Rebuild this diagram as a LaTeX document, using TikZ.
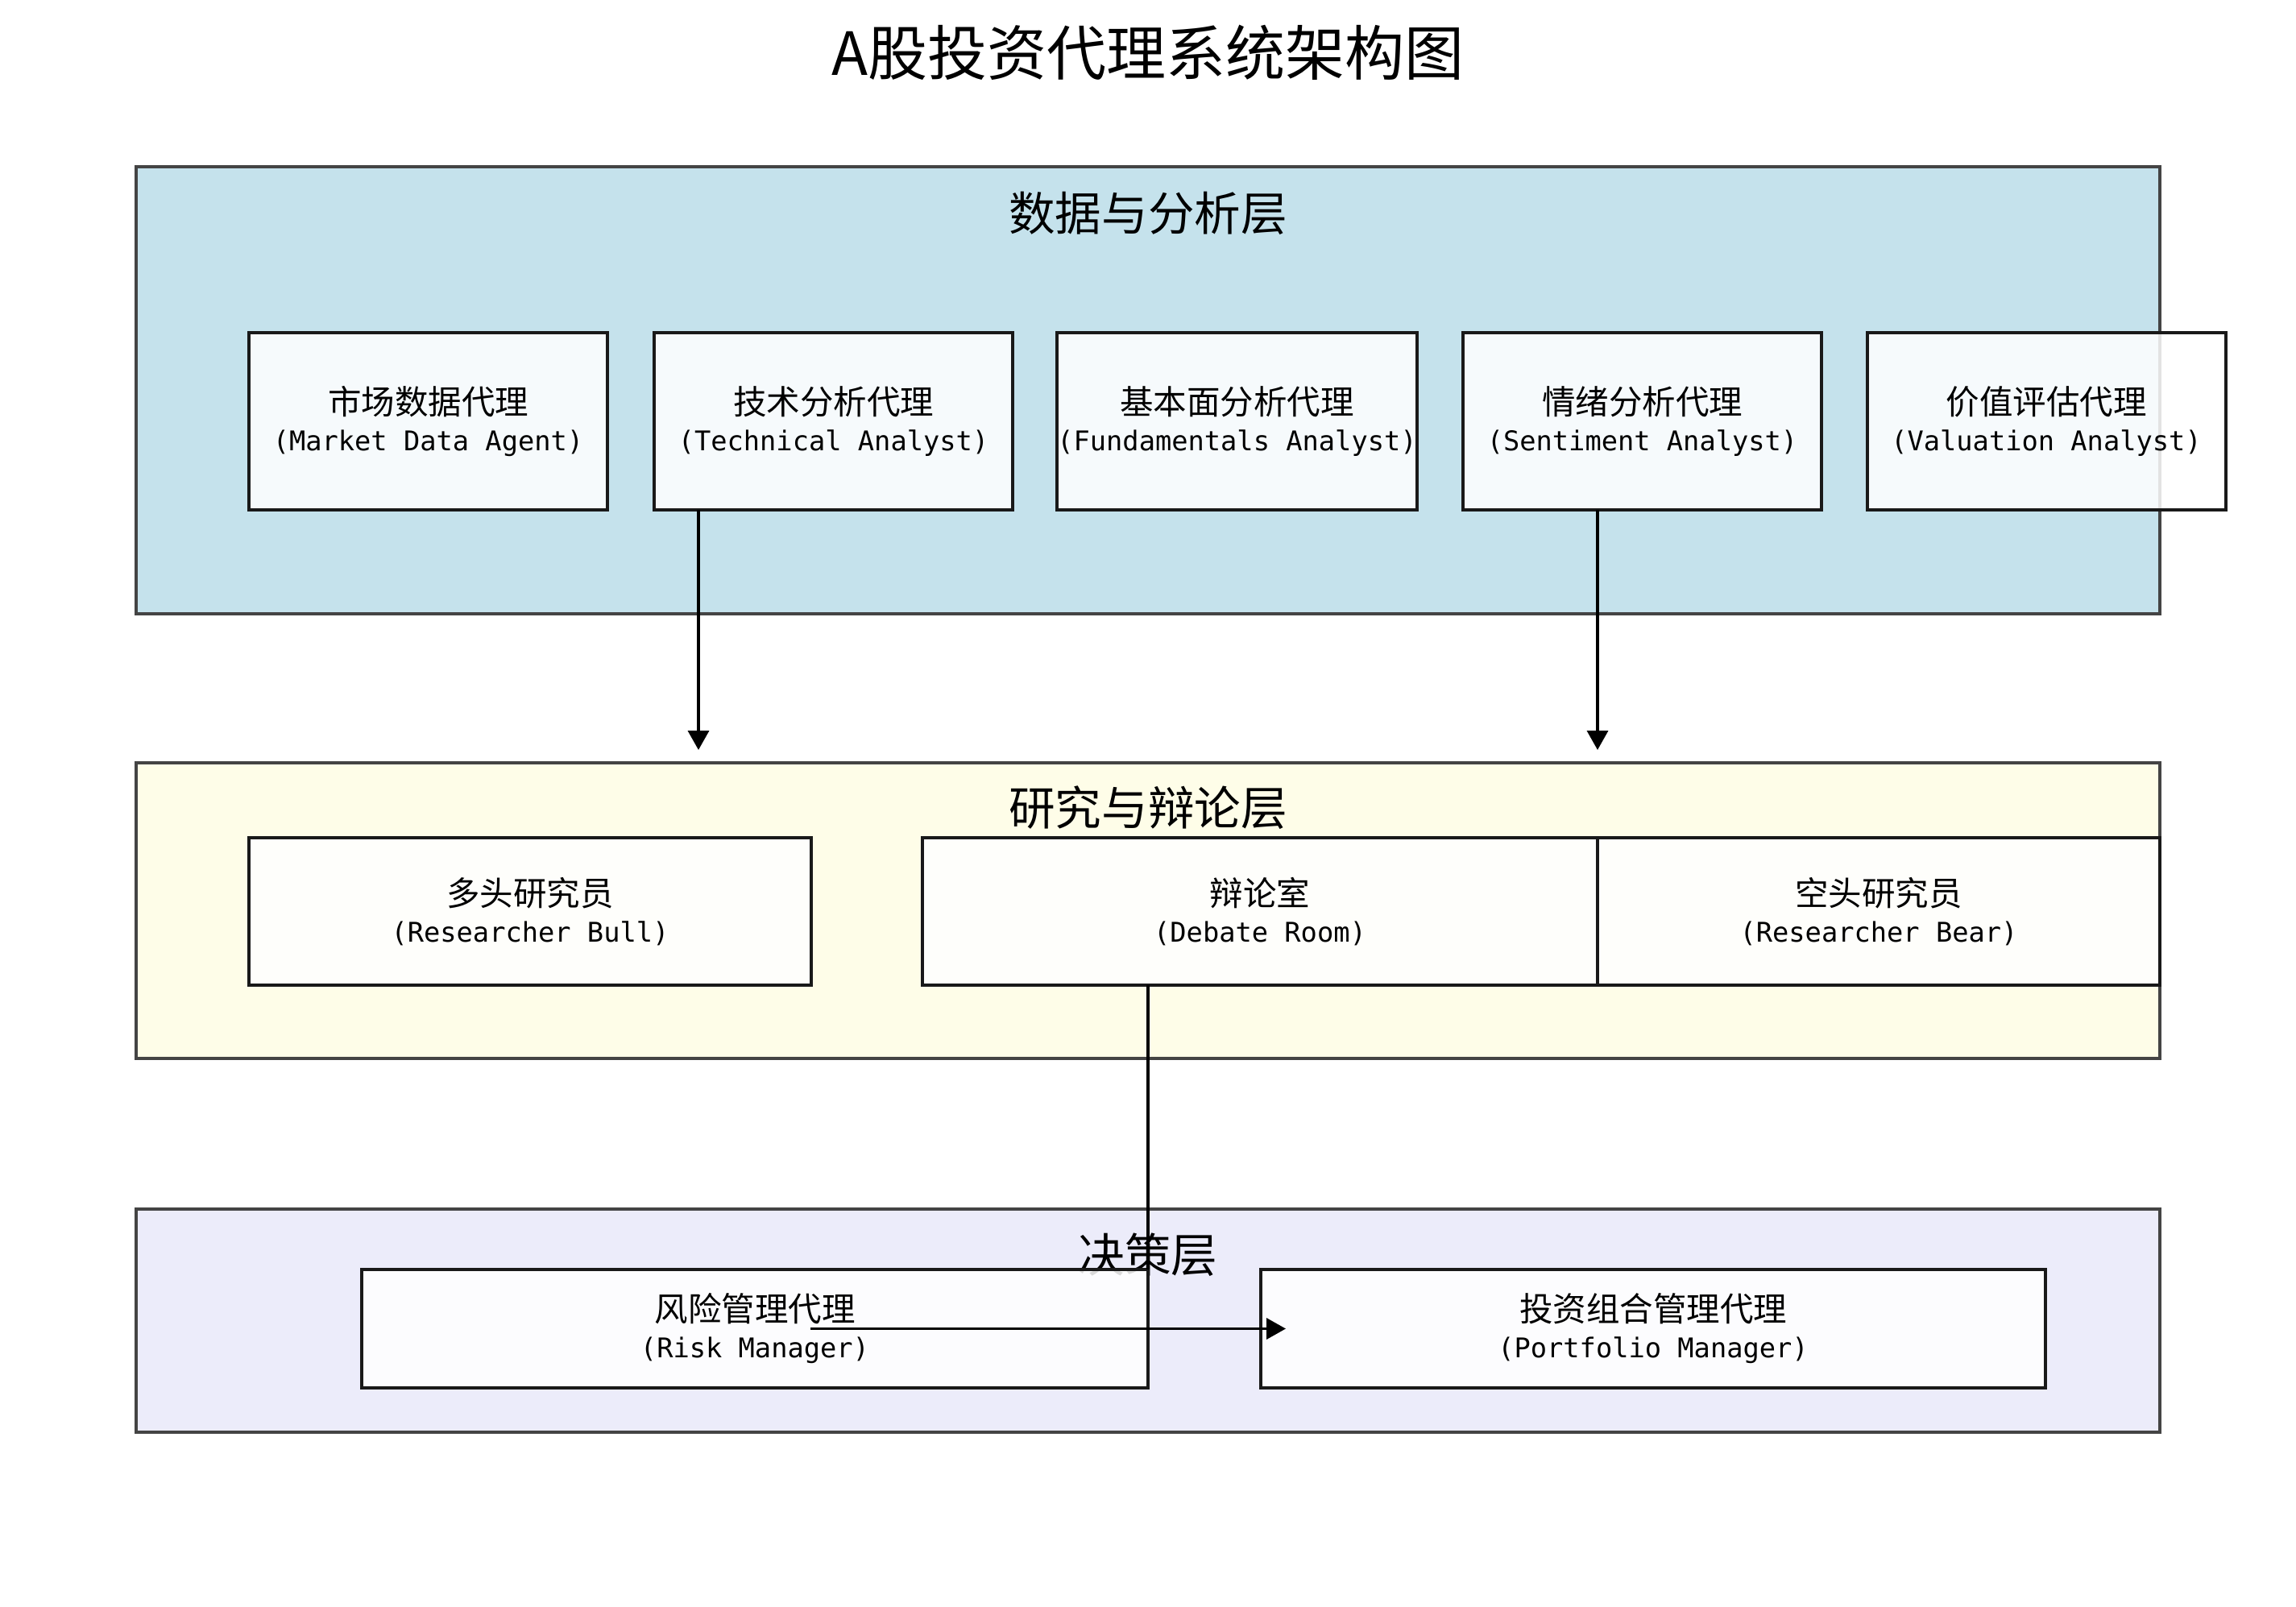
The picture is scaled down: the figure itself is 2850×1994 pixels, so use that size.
\documentclass[tikz,border=0pt]{standalone}
\usepackage{fontspec}
\setmainfont{Noto Sans CJK SC}
\newfontfamily\monofont{DejaVu Sans Mono}
\usetikzlibrary{arrows.meta}

\definecolor{layerblue}{RGB}{197,226,236}
\definecolor{layeryellow}{RGB}{254,253,232}
\definecolor{layerviolet}{RGB}{236,236,250}
\definecolor{layeredge}{RGB}{68,68,68}

\newcommand\agentlabel[2]{#1\\{\monofont\fontsize{33.7}{45}\selectfont #2}}

\tikzset{
  layerbox/.style={draw=layeredge, line width=4.5pt},
  layertitle/.style={font=\fontsize{57.6}{62}\selectfont},
  agentbox/.style={draw=black!90, line width=4pt, fill=white, fill opacity=0.85,
    text opacity=1, inner sep=0pt, outer sep=0pt, align=center,
    font=\fontsize{41.5}{45}\selectfont},
  flow/.style={line width=3.5pt, draw=black},
  flowtip/.style={flow, -{Triangle[length=24pt,width=26pt]}},
}

\begin{document}
\begin{tikzpicture}[x=1pt,y=-1pt]
\useasboundingbox (0,0) rectangle (2850,1994);
\fill[white] (0,0) rectangle (2850,1994);

% title
\node[font=\fontsize{74}{80}\selectfont] (title) at (1425,65) {A股投资代理系统架构图};

% layers
\draw[layerbox, fill=layerblue] (169,207) rectangle (2681,762);
\node[layertitle] (t1) at (1425,265) {数据与分析层};

\draw[layerbox, fill=layeryellow] (169,947) rectangle (2681,1314);
\node[layertitle] (t2) at (1425,1003) {研究与辩论层};

\draw[layerbox, fill=layerviolet] (169,1501) rectangle (2681,1778);
\node[layertitle] (t3) at (1425,1558) {决策层};

% data and analysis agents
\begin{scope}[every node/.style={agentbox, minimum width=445pt, minimum height=220pt}]
\node (market) at (531.5,523) {\agentlabel{市场数据代理}{(Market Data Agent)}};
\node (tech)   at (1034.5,523) {\agentlabel{技术分析代理}{(Technical Analyst)}};
\node (fund)   at (1535.5,523) {\agentlabel{基本面分析代理}{(Fundamentals Analyst)}};
\node (senti)  at (2038.5,523) {\agentlabel{情绪分析代理}{(Sentiment Analyst)}};
\node (valu)   at (2540,523) {\agentlabel{价值评估代理}{(Valuation Analyst)}};
\end{scope}

% research and debate
\begin{scope}[every node/.style={agentbox, minimum height=183pt}]
\node[minimum width=698pt] (bull)   at (658,1131.5) {\agentlabel{多头研究员}{(Researcher Bull)}};
\node[minimum width=838pt] (debate) at (1564,1131.5) {\agentlabel{辩论室}{(Debate Room)}};
\node[minimum width=698pt] (bear)   at (2332,1131.5) {\agentlabel{空头研究员}{(Researcher Bear)}};
\end{scope}

% decision
\begin{scope}[every node/.style={agentbox, minimum height=147pt}]
\node[minimum width=976pt] (risk)      at (937,1649.5) {\agentlabel{风险管理代理}{(Risk Manager)}};
\node[minimum width=974pt] (portfolio) at (2052,1649.5) {\agentlabel{投资组合管理代理}{(Portfolio Manager)}};
\end{scope}

% connectors
\coordinate (in1) at (867,931);
\coordinate (in2) at (1983,931);
\draw[flowtip] (tech.south -| in1) -- (in1);
\draw[flowtip] (senti.south -| in2) -- (in2);
\draw[flow] (risk.north east |- debate.south) -- (risk.north east);
\draw[flowtip] ([xshift=69pt]risk.center) -- ([xshift=31pt]portfolio.west);
\end{tikzpicture}
\end{document}
